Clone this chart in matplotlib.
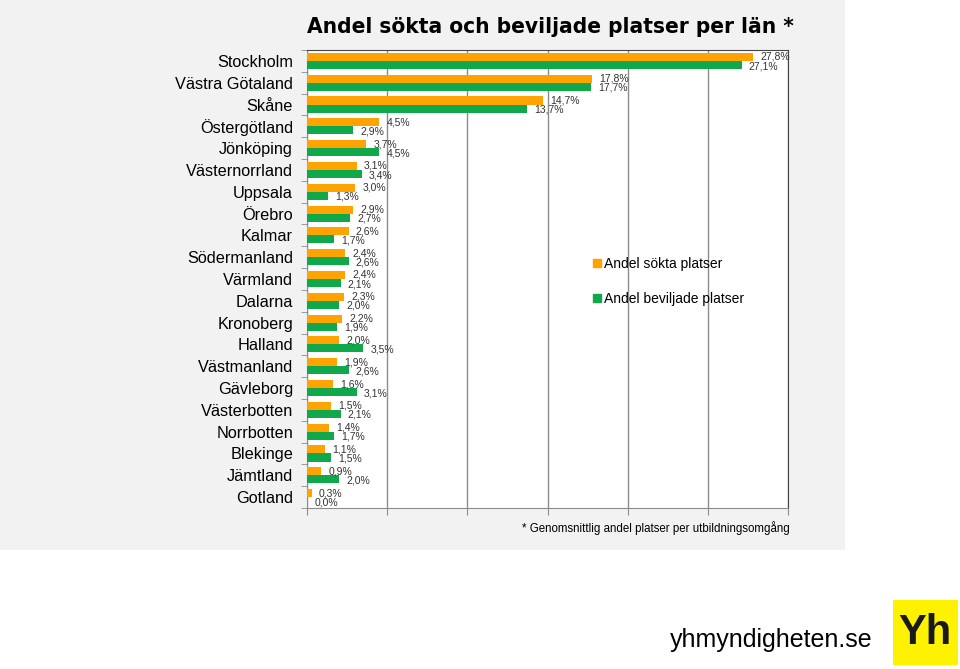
import numpy as np
import matplotlib.pyplot as plt
from matplotlib.patches import Rectangle
from matplotlib.lines import Line2D

lan = ['Stockholm', 'Västra Götaland', 'Skåne', 'Östergötland', 'Jönköping',
       'Västernorrland', 'Uppsala', 'Örebro', 'Kalmar', 'Södermanland',
       'Värmland', 'Dalarna', 'Kronoberg', 'Halland', 'Västmanland',
       'Gävleborg', 'Västerbotten', 'Norrbotten', 'Blekinge', 'Jämtland', 'Gotland']
sokta = [27.8, 17.8, 14.7, 4.5, 3.7, 3.1, 3.0, 2.9, 2.6, 2.4, 2.4,
         2.3, 2.2, 2.0, 1.9, 1.6, 1.5, 1.4, 1.1, 0.9, 0.3]
beviljade = [27.1, 17.7, 13.7, 2.9, 4.5, 3.4, 1.3, 2.7, 1.7, 2.6, 2.1,
             2.0, 1.9, 3.5, 2.6, 3.1, 2.1, 1.7, 1.5, 2.0, 0.0]

orange = '#ffa300'
green = '#0fa84b'
sans = ['Liberation Sans', 'DejaVu Sans']

fig = plt.figure(figsize=(9.6, 6.69), dpi=100)
fig.patch.set_facecolor('white')

# grey panel behind the chart
bg = fig.add_axes([0, 1 - 550 / 669, 845 / 960, 550 / 669], zorder=-1)
bg.set_facecolor('#f2f2f2')
bg.set_xticks([])
bg.set_yticks([])
for s in bg.spines.values():
    s.set_visible(False)

ax = fig.add_axes([307 / 960, 1 - 508 / 669, 481 / 960, 458 / 669])
ax.set_facecolor('white')

y = np.arange(len(lan))
h = 0.37
ax.barh(y - h / 2, sokta, height=h, color=orange, zorder=3)
ax.barh(y + h / 2, beviljade, height=h, color=green, zorder=3)

def fmt(v):
    return ('%.1f%%' % v).replace('.', ',')

# value labels just right of each bar end
for i in range(len(lan)):
    ax.text(sokta[i] + 0.45, y[i] - h / 2, fmt(sokta[i]), va='center', ha='left',
            fontsize=7.5, color='#333333', family=sans, zorder=4)
    ax.text(beviljade[i] + 0.45, y[i] + h / 2 + 0.05, fmt(beviljade[i]), va='center',
            ha='left', fontsize=7.5, color='#333333', family=sans, zorder=4)

ax.set_xlim(0, 30)
ax.set_ylim(len(lan) - 0.5, -0.5)
ax.set_xticks(np.arange(0, 31, 5))
ax.set_xticklabels([])
ax.grid(axis='x', color='#8c8c8c', linewidth=1, zorder=1)
ax.tick_params(axis='x', length=5, color='#8c8c8c', direction='out')

ax.set_yticks(y)
ax.set_yticklabels(lan, fontsize=11.7, family=sans)
ax.tick_params(axis='y', length=0, pad=10)
ax.set_yticks(np.arange(-0.5, len(lan)), minor=True)
ax.tick_params(axis='y', which='minor', length=4, color='#8c8c8c')

for s in ['left', 'bottom']:
    ax.spines[s].set_color('#8c8c8c')
for s in ['top', 'right']:
    ax.spines[s].set_color('#444444')

fig.text(550 / 960, 1 - 27 / 669, 'Andel sökta och beviljade platser per län *',
         ha='center', va='center', fontsize=16.2, fontweight='bold',
         family='DejaVu Sans', fontstretch='condensed')

handles = [Line2D([], [], marker='s', linestyle='none', markersize=6,
                  markerfacecolor=orange, markeredgecolor=orange),
           Line2D([], [], marker='s', linestyle='none', markersize=6,
                  markerfacecolor=green, markeredgecolor=green)]
fig.legend(handles, ['Andel sökta platser', 'Andel beviljade platser'],
           loc='upper left', bbox_to_anchor=(580 / 960, 1 - 244 / 669),
           frameon=False, handlelength=0.6, handletextpad=0.2,
           labelspacing=1.55, prop={'family': sans, 'size': 10})

fig.text(790 / 960, 1 - 528 / 669, '* Genomsnittlig andel platser per utbildningsomgång',
         ha='right', va='center', fontsize=8.3, family=sans)

fig.text(872 / 960, 1 - 640 / 669, 'yhmyndigheten.se', ha='right', va='center',
         fontsize=18, family=sans)
fig.patches.append(Rectangle((893 / 960, 1 - 665 / 669), 65 / 960, 65 / 669,
                             transform=fig.transFigure, facecolor='#fff200',
                             edgecolor='none'))
fig.text(925 / 960, 1 - 633 / 669, 'Yh', ha='center', va='center', fontsize=30,
         fontweight='bold', family=sans, color='#1a1a1a')

fig.savefig('out.png', dpi=100)
